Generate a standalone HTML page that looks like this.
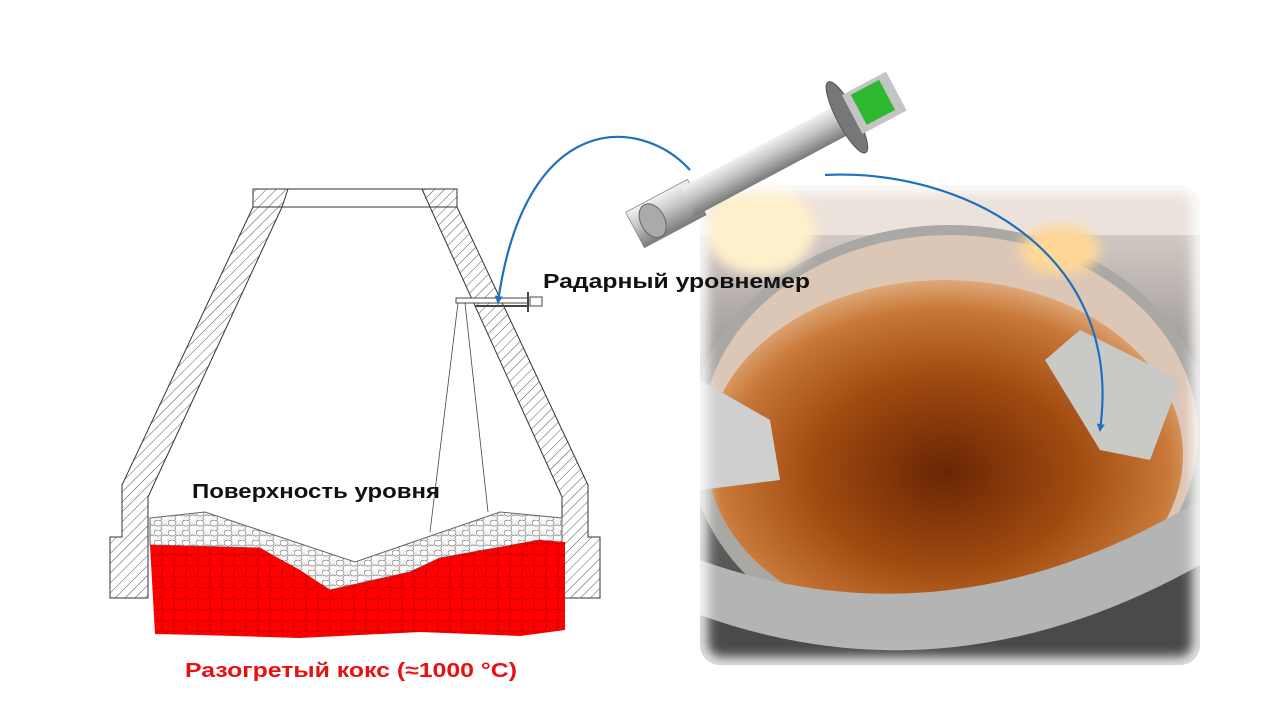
<!DOCTYPE html>
<html><head><meta charset="utf-8"><style>
html,body{margin:0;padding:0;background:#fff;width:1280px;height:720px;overflow:hidden}
svg{display:block}
text{font-family:"Liberation Sans",sans-serif;font-weight:bold}
</style></head><body>
<svg width="1280" height="720" viewBox="0 0 1280 720" xmlns="http://www.w3.org/2000/svg">
<defs>
<pattern id="h" width="7" height="7" patternUnits="userSpaceOnUse" patternTransform="rotate(45)">
<rect width="7" height="7" fill="#fff"/><line x1="0" y1="0" x2="0" y2="7" stroke="#555" stroke-width="1"/></pattern>
<pattern id="peb" width="14" height="10" patternUnits="userSpaceOnUse">
<rect width="14" height="10" fill="#f4f4f4"/><ellipse cx="4" cy="3" rx="4" ry="3" fill="#fff" stroke="#777" stroke-width="0.7"/><ellipse cx="11" cy="8" rx="4" ry="3" fill="#fff" stroke="#777" stroke-width="0.7"/></pattern>
<pattern id="red" width="12" height="11" patternUnits="userSpaceOnUse">
<rect width="12" height="11" fill="#f00"/><path d="M0 5 L6 4 L12 6 M6 0 L5 4 M7 6 L6 11" stroke="#a00" stroke-width="0.6" fill="none"/></pattern>
<radialGradient id="pit" cx="0.5" cy="0.55" r="0.55">
<stop offset="0" stop-color="#6a2604"/><stop offset="0.5" stop-color="#a04a10"/><stop offset="0.85" stop-color="#c87838"/><stop offset="1" stop-color="#e0a878"/></radialGradient>
<linearGradient id="bg" x1="0" y1="0" x2="0" y2="1">
<stop offset="0" stop-color="#e8dcd6"/><stop offset="0.45" stop-color="#8a8886"/><stop offset="1" stop-color="#3a3a3a"/></linearGradient>
<linearGradient id="cyl" x1="0" y1="0" x2="0" y2="1">
<stop offset="0" stop-color="#f2f2f2"/><stop offset="0.45" stop-color="#c4c4c4"/><stop offset="1" stop-color="#7a7a7a"/></linearGradient>
<filter id="blur"><feGaussianBlur stdDeviation="8"/></filter>
<filter id="b2"><feGaussianBlur stdDeviation="6"/></filter>
<filter id="fe"><feGaussianBlur stdDeviation="6"/></filter>
<marker id="ar" markerWidth="10" markerHeight="10" refX="6" refY="5" orient="auto" markerUnits="userSpaceOnUse"><path d="M0,1 L8,5 L0,9 Z" fill="#1f6fc0"/></marker>
<clipPath id="pc"><rect x="700" y="185" width="500" height="480" rx="20"/></clipPath>
</defs>

<!-- photo -->
<g clip-path="url(#pc)">
<rect x="700" y="185" width="500" height="480" fill="url(#bg)"/>
<rect x="700" y="185" width="500" height="50" fill="#ece2dc"/>
<ellipse cx="950" cy="440" rx="262" ry="215" fill="#a9a8a5"/>
<ellipse cx="950" cy="435" rx="248" ry="200" fill="#dcc6b6"/>
<ellipse cx="945" cy="455" rx="238" ry="175" fill="url(#pit)"/>
<path d="M700 560 Q950 650 1200 500 L1200 570 Q950 710 700 620 Z" fill="#b4b4b4"/>
<path d="M700 615 Q950 705 1200 565 L1200 665 L700 665 Z" fill="#4a4a48"/>
<path d="M700 380 L770 420 L780 480 L700 490 Z" fill="#cfcfcf"/>
<path d="M1045 360 L1080 330 L1180 380 L1150 460 L1100 450 Z" fill="#c9c9c6"/>
<ellipse cx="760" cy="230" rx="55" ry="45" fill="#fff0cc" filter="url(#b2)"/>
<ellipse cx="1060" cy="250" rx="40" ry="25" fill="#ffd898" filter="url(#b2)"/>
</g>
<rect x="700" y="185" width="500" height="480" rx="20" fill="none" stroke="#fff" stroke-width="14" filter="url(#fe)"/>

<!-- radar device -->
<g transform="translate(635,230) rotate(-28)">
<rect x="0" y="-20" width="70" height="40" fill="url(#cyl)" stroke="#888" stroke-width="0.8"/>
<rect x="60" y="-16" width="180" height="32" fill="url(#cyl)"/>
<ellipse cx="20" cy="0" rx="12" ry="18" fill="#aaa" stroke="#666"/>
<ellipse cx="240" cy="0" rx="10" ry="40" fill="#777" stroke="#555"/>
<rect x="246" y="-22" width="50" height="44" fill="#c4c4c4"/>
<rect x="254" y="-18" width="32" height="34" fill="#2db830"/>
</g>

<!-- furnace diagram -->
<g stroke="#333" stroke-width="1">
<rect x="253" y="189" width="204" height="18" fill="#fff"/>
<path d="M253 189 H288 L282 207 H253 Z" fill="url(#h)"/>
<path d="M422 189 H457 V207 H430 Z" fill="url(#h)"/>
<path d="M253 207 L282 207 L148 497 L148 598 L110 598 L110 537 L122 537 L122 485 Z" fill="url(#h)"/>
<path d="M457 207 L430 207 L562 497 L562 598 L600 598 L600 537 L588 537 L588 485 Z" fill="url(#h)"/>
</g>
<path d="M150 518 L205 512 L355 562 L500 512 L562 518 L562 545 L540 540 L440 558 L410 572 L330 590 L260 548 L150 545 Z" fill="url(#peb)" stroke="#666" stroke-width="1"/>
<path d="M150 545 L260 548 L300 570 L330 590 L410 572 L440 558 L540 540 L565 542 L565 630 L520 636 L420 632 L300 638 L200 635 L155 634 Z" fill="url(#red)"/>
<g stroke="#444" stroke-width="1" fill="none">
<rect x="456" y="298" width="72" height="5" fill="#fff"/>
<line x1="475" y1="306" x2="528" y2="306" stroke-width="2"/>
<line x1="528" y1="292" x2="528" y2="312" stroke-width="2"/>
<rect x="530" y="297" width="12" height="9"/>
<line x1="458" y1="303" x2="430" y2="532" stroke-width="0.8"/>
<line x1="465" y1="303" x2="488" y2="512" stroke-width="0.8"/>
</g>

<path d="M690 170 C640 115 525 110 498 302" fill="none" stroke="#1f6fc0" stroke-width="2.2" marker-end="url(#ar)"/>
<path d="M825 175 C960 168 1125 250 1100 430" fill="none" stroke="#1f6fc0" stroke-width="2.2" marker-end="url(#ar)"/>

<text x="543" y="288" font-size="20" fill="#111" textLength="267" lengthAdjust="spacingAndGlyphs">Радарный уровнемер</text>
<text x="192" y="498" font-size="20" fill="#111" textLength="248" lengthAdjust="spacingAndGlyphs">Поверхность уровня</text>
<text x="185" y="677" font-size="20" fill="#e81010" textLength="332" lengthAdjust="spacingAndGlyphs">Разогретый кокс (≈1000 °C)</text>
</svg>
</body></html>
